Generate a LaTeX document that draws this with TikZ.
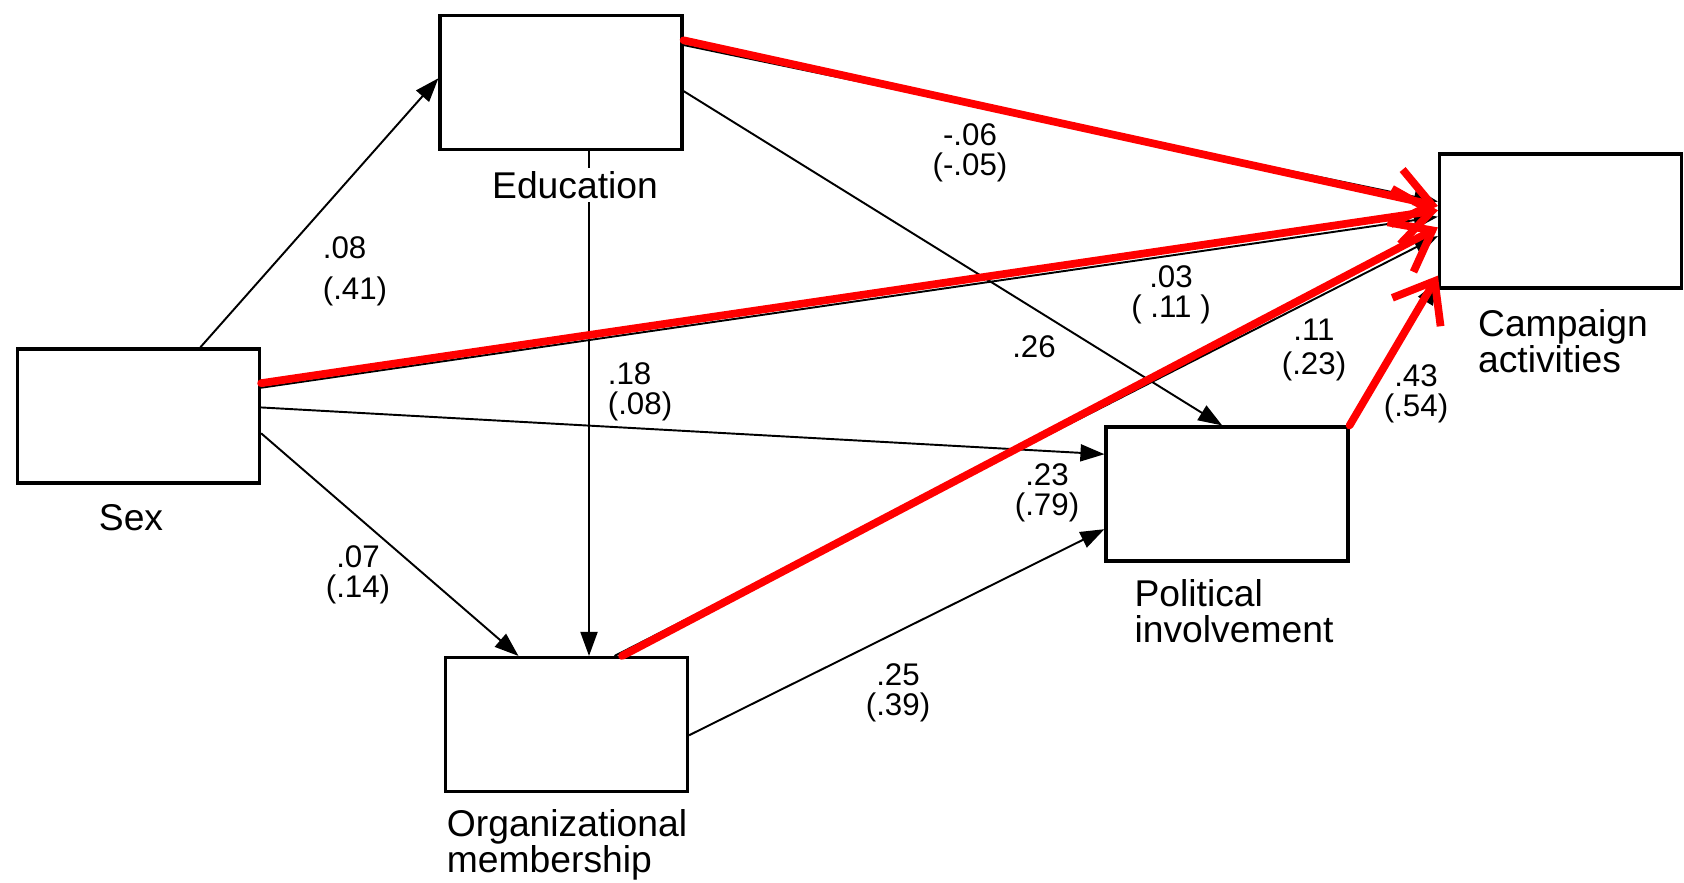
\documentclass[tikz,border=0pt]{standalone}
\usepackage{fontspec}
\setmainfont{Liberation Sans}
\usetikzlibrary{arrows.meta}

\begin{document}
\begin{tikzpicture}[
  box/.style={draw, line width=0.9pt, minimum width=2.42cm, minimum height=1.34cm, inner sep=0pt},
  arr/.style={line width=0.55pt, -{Triangle[length=2.4mm,width=1.7mm]}},
  hot/.style={red, line width=2.2pt, line cap=round, -{Straight Barb[length=3.6mm,width=5.6mm]}},
  coef/.style={font=\fontsize{8.9}{8.6}\selectfont, align=center, inner sep=1pt},
  vname/.style={font=\fontsize{10.6}{10.2}\selectfont, align=left, inner sep=1pt}
]
  \useasboundingbox (0,0) rectangle (16.84,-8.82);

  % the five variables
  \node[box] (edu) at (5.61,-0.825) {};
  \node[box] (sex) at (1.385,-4.16) {};
  \node[box] (org) at (5.665,-7.245) {};
  \node[box] (pol) at (12.27,-4.94) {};
  \node[box] (camp) at (15.605,-2.21) {};

  % black paths
  \draw[arr] (sex.48) -- (edu.178);
  \draw[arr] ([xshift=0.28cm]edu.south) -- ([xshift=0.28cm]edu.south |- org.north);
  \draw[arr] (edu.-4) -- (pol.94);
  \draw[arr] (sex.4.6) -- (pol.162.6);
  \draw[arr] (sex.-8.7) -- (org.125);
  \draw[arr] (org.-5.5) -- (pol.-164.3);
  \draw[arr] (edu.17.8) -- (camp.171);
  \draw[arr] (sex.13.6) -- (camp.178.5);
  \draw[arr] (org.55) -- (camp.187.5);
  \draw[arr] (pol.north east) -- (camp.206);

  % red paths to campaign activities
  \draw[hot] (edu.19.4) -- (camp.173.9);
  \draw[hot] (sex.15) -- (camp.175.8);
  \draw[hot] (org.51.1) -- (camp.183.3);
  \draw[hot] (pol.north east) -- (camp.204.7);

  % path coefficients
  \node[coef, align=left] (c1) at (3.55,-2.71) {.08\\[3pt](.41)};
  \node[coef] (c2) at (9.70,-1.53) {-.06\\(-.05)};
  \node[coef] (c3) at (11.71,-2.95) {.03\\( .11 )};
  \node[coef] (c4) at (10.34,-3.47) {.26};
  \node[coef] (c5) at (13.14,-3.50) {.11\\[1pt](.23)};
  \node[coef] (c6) at (14.16,-3.94) {.43\\(.54)};
  \node[coef, align=left] (c7) at (6.40,-3.92) {.18\\(.08)};
  \node[coef] (c8) at (10.47,-4.93) {.23\\(.79)};
  \node[coef] (c9) at (3.58,-5.75) {.07\\(.14)};
  \node[coef] (c10) at (8.98,-6.93) {.25\\(.39)};

  % variable names
  \node[vname, fill=white] (edulab) at (5.75,-1.85) {Education};
  \node[vname] (sexlab) at (1.31,-5.18) {Sex};
  \node[vname] (orglab) at (5.67,-8.45) {Organizational\\membership};
  \node[vname] (pollab) at (12.34,-6.11) {Political\\involvement};
  \node[vname] (camplab) at (15.63,-3.41) {Campaign\\activities};
\end{tikzpicture}
\end{document}
